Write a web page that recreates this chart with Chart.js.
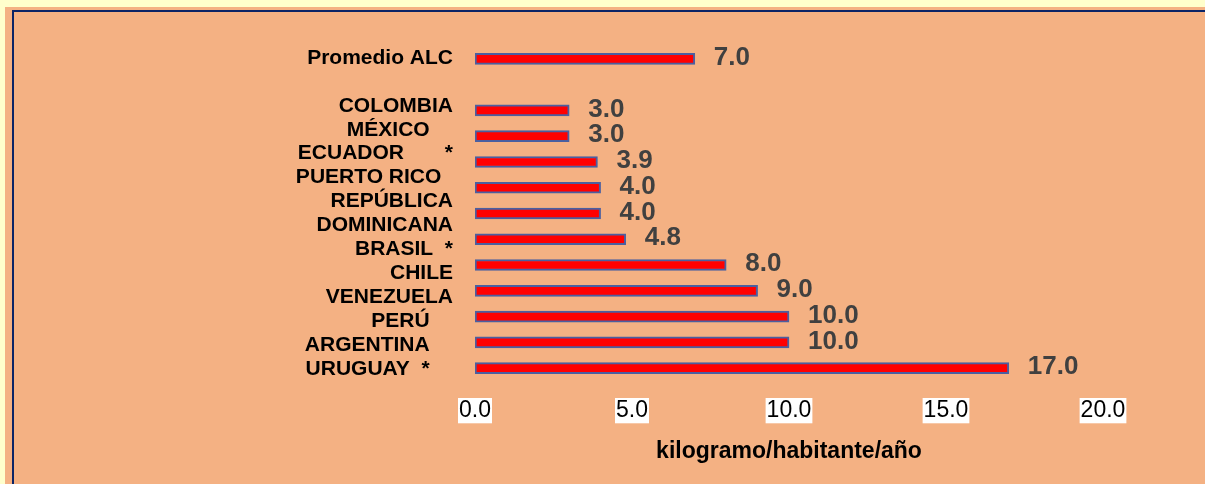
<!DOCTYPE html>
<html>
<head>
<meta charset="utf-8">
<script src="https://cdn.jsdelivr.net/npm/chart.js@4.4.0/dist/chart.umd.min.js"></script>
<style>
  html, body { margin: 0; padding: 0; width: 100%; height: 100%; overflow: hidden; background: #FFFFCC; }
  #panel { position: fixed; left: 5px; top: 7px; right: 0; bottom: 0; background: #F4B183; }
  #frame { position: fixed; left: 12px; top: 10px; right: 0; bottom: 0; border-left: 2px solid #0B2466; border-top: 2px solid #0B2466; }
  #c { position: fixed; left: 0; top: 0; }
</style>
</head>
<body>
<div id="panel"></div>
<div id="frame"></div>
<canvas id="c" width="1205" height="484"></canvas>
<script>
// Bar categories (blank entry = gap row between average and countries)
const categories = ['Promedio ALC', '', 'COLOMBIA', 'MÉXICO', 'ECUADOR', 'PUERTO RICO',
  'REPÚBLICA DOMINICANA', 'BRASIL', 'CHILE', 'VENEZUELA', 'PERÚ', 'ARGENTINA', 'URUGUAY'];
// kilogramo/habitante/año
const values = [7.0, null, 3.0, 3.0, 3.9, 4.0, 4.0, 4.8, 8.0, 9.0, 10.0, 10.0, 17.0];
// Text rows printed at the left of the chart, as in the original
const rowLabels = ['Promedio ALC', '', 'COLOMBIA', 'MÉXICO    ', 'ECUADOR       *', 'PUERTO RICO  ',
  'REPÚBLICA', 'DOMINICANA', 'BRASIL  *', 'CHILE', 'VENEZUELA', 'PERÚ    ', 'ARGENTINA    ', 'URUGUAY  *    '];
const xMin = 0, xMax = 20, xStep = 5;
const axisTitle = 'kilogramo/habitante/año';

const FONT = '"Liberation Sans", Arial, sans-serif';

const valueLabels = {
  id: 'valueLabels',
  afterDatasetsDraw(chart) {
    const ctx = chart.ctx;
    const meta = chart.getDatasetMeta(0);
    ctx.save();
    ctx.font = 'bold 26px ' + FONT;
    ctx.fillStyle = '#404040';
    ctx.textAlign = 'left';
    ctx.textBaseline = 'middle';
    meta.data.forEach((el, i) => {
      const v = values[i];
      if (v === null || v === undefined) return;
      ctx.fillText(v.toFixed(1), el.x + 19, el.y - 1);
    });
    ctx.restore();
  }
};

new Chart(document.getElementById('c'), {
  type: 'bar',
  data: {
    labels: categories,
    datasets: [{
      data: values,
      backgroundColor: '#FF0000',
      borderColor: '#4A5FA0',
      borderWidth: 2,
      borderSkipped: false,
      barThickness: 11
    }]
  },
  options: {
    indexAxis: 'y',
    responsive: false,
    animation: false,
    events: [],
    layout: { padding: { left: 0, right: 102, top: 46, bottom: 0 } },
    plugins: { legend: { display: false }, tooltip: { enabled: false } },
    scales: {
      y: {
        type: 'category',
        display: false,
        grid: { display: false }
      },
      yLabels: {
        type: 'category',
        position: 'left',
        labels: rowLabels,
        grid: { display: false, drawTicks: false },
        border: { display: false },
        ticks: {
          autoSkip: false,
          padding: 22,
          color: '#000000',
          font: { family: FONT, size: 21, weight: 'bold', lineHeight: 1.0 }
        },
        afterFit(scale) { scale.width = 475; }
      },
      x: {
        type: 'linear',
        min: xMin,
        max: xMax,
        grid: { display: false, drawTicks: false },
        border: { display: false },
        ticks: {
          stepSize: xStep,
          padding: 17,
          color: '#000000',
          font: { family: FONT, size: 23, lineHeight: 1.1 },
          showLabelBackdrop: true,
          backdropColor: '#FFFFFF',
          backdropPadding: { top: 0, bottom: 0, left: 1, right: 1 },
          callback: (v) => Number(v).toFixed(1)
        },
        title: {
          display: true,
          text: axisTitle,
          color: '#000000',
          font: { family: FONT, size: 23, weight: 'bold' },
          padding: { top: 0, bottom: 19 }
        },
        afterFit(scale) { scale.height = 103; }
      }
    }
  },
  plugins: [valueLabels]
});
</script>
</body>
</html>
